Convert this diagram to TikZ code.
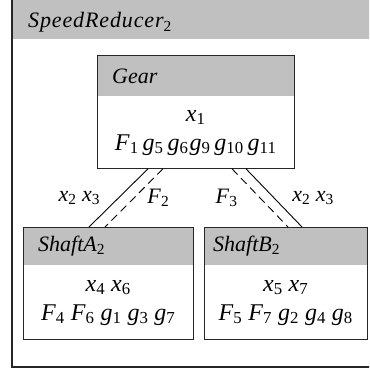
\documentclass[tikz,border=0pt]{standalone}
\usepackage{fontspec}
\setmainfont{Liberation Serif}
\newfontfamily\widefont{Liberation Serif}[LetterSpace=4]
\usetikzlibrary{positioning}

\definecolor{hdgray}{RGB}{192,192,192}
\newcommand{\vs}[2]{\textit{#1}\textsubscript{\upshape #2}}

\begin{document}
\begin{tikzpicture}[
  x=1pt, y=-1pt,
  font=\fontsize{22}{28}\selectfont,
  frame/.style={draw=black!85, line width=1pt},
  head/.style={fill=hdgray, anchor=north west, inner xsep=15pt, inner ysep=0pt, align=left, font=\fontsize{22}{28}\selectfont\itshape},
  body/.style={anchor=north west, minimum height=74pt, inner sep=0pt, align=center, font=\fontsize{24}{29}\selectfont},
  link/.style={line width=0.9pt},
  flow/.style={line width=0.9pt, dash pattern=on 8pt off 5pt},
  lbl/.style={inner sep=0pt},
]
\clip (0,0) rectangle (369,371);

% outer module
\fill[hdgray] (12,-5) rectangle (380,39);
\draw[frame, line width=1.3pt] (12,-5) rectangle (380,367);
\node[anchor=base west, inner sep=0pt, font=\fontsize{22}{28}\widefont\itshape] (srhd) at (28,28) {SpeedReducer\textsubscript{\upshape 2}};

% Gear
\node[head, text width=167pt, minimum height=40pt] (gearhd) at (97,56) {Gear};
\node[body, minimum width=197pt, minimum height=72pt] (gear) at (gearhd.south west) {\vs{x}{1}\\\vs{F}{1}\hspace{4pt}\vs{g}{5}\hspace{4pt}\vs{g}{6}\hspace{1pt}\vs{g}{9}\hspace{4pt}\vs{g}{10}\hspace{4pt}\vs{g}{11}};
\draw[frame] (gearhd.north west) rectangle (gear.south east);

% Shafts
\node[head, text width=140pt, minimum height=38pt] (shaftAhd) at (23,227) {Shaft\textit{A}\textsubscript{\upshape 2}};
\node[body, minimum width=170pt] (shaftA) at (shaftAhd.south west) {\vs{x}{4} \vs{x}{6}\\\vs{F}{4} \vs{F}{6} \vs{g}{1} \vs{g}{3} \vs{g}{7}};
\draw[frame] (shaftAhd.north west) rectangle (shaftA.south east);

\node[head, inner xsep=9pt, text width=145pt, minimum height=38pt] (shaftBhd) at (204,227) {Shaft\textit{B}\textsubscript{\upshape 2}};
\node[body, minimum width=163pt] (shaftB) at (shaftBhd.south west) {\vs{x}{5} \vs{x}{7}\\\vs{F}{5} \vs{F}{7} \vs{g}{2} \vs{g}{4} \vs{g}{8}};
\draw[frame] (shaftBhd.north west) rectangle (shaftB.south east);

% links
\draw[link] ([xshift=51pt]gear.south west) -- node[lbl, left=18pt] (lnkAx) {\vs{x}{2} \vs{x}{3}} ([xshift=66pt]shaftAhd.north west);
\draw[flow] ([xshift=66pt]gear.south west) -- node[lbl, right=13pt] (lnkAf) {\vs{F}{2}} ([xshift=82pt]shaftAhd.north west);
\draw[flow] ([xshift=135pt]gear.south west) -- node[lbl, left=22pt] (lnkBf) {\vs{F}{3}} ([xshift=84pt]shaftBhd.north west);
\draw[link] ([xshift=149pt]gear.south west) -- node[lbl, right=18pt] (lnkBx) {\vs{x}{2} \vs{x}{3}} ([xshift=98pt]shaftBhd.north west);

\end{tikzpicture}
\end{document}
